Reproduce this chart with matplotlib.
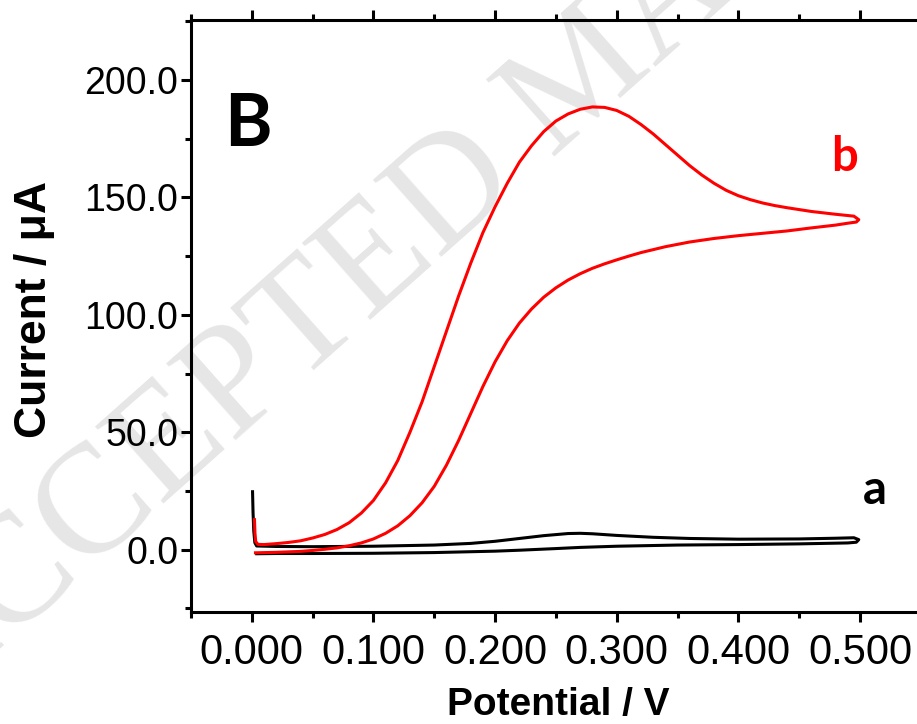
import matplotlib
matplotlib.use("Agg")
import matplotlib.pyplot as plt
from matplotlib.ticker import MultipleLocator, FormatStrFormatter

# ---- data ----
# curve a (black): initial transient, forward branch, reverse branch
a_x = [0.0006, 0.0010, 0.0016, 0.0025, 0.004, 0.02, 0.05, 0.10, 0.15, 0.18, 0.20, 0.22,
       0.24, 0.26, 0.27, 0.28, 0.30, 0.33, 0.36, 0.40, 0.45, 0.48, 0.495, 0.499,
       0.497, 0.49, 0.45, 0.40, 0.35, 0.30, 0.27, 0.25, 0.22, 0.20, 0.15, 0.10,
       0.05, 0.02, 0.004]
a_y = [24.7, 16.0, 8.0, 3.0, 1.6, 1.4, 1.3, 1.5, 2.0, 2.7, 3.6, 4.8,
       6.0, 6.9, 7.0, 6.8, 6.1, 5.3, 4.8, 4.5, 4.6, 4.9, 5.1, 4.3,
       3.2, 2.9, 2.5, 2.2, 2.0, 1.5, 1.0, 0.5, -0.2, -0.6, -1.2, -1.5,
       -1.6, -1.6, -1.7]

# curve b (red): initial transient, forward branch, reverse branch
b_x = [0.0022, 0.0026, 0.0032, 0.005, 0.01, 0.02, 0.03, 0.04, 0.05, 0.06, 0.07, 0.08,
       0.09, 0.10, 0.11, 0.12,
       0.13, 0.14, 0.15, 0.16, 0.17, 0.18, 0.19, 0.20, 0.21, 0.22, 0.23, 0.24,
       0.25, 0.26, 0.27, 0.28, 0.29, 0.30, 0.31, 0.32, 0.33, 0.34, 0.35, 0.36,
       0.37, 0.38, 0.39, 0.40, 0.41, 0.42, 0.43, 0.44, 0.46, 0.48, 0.495, 0.499,
       0.497, 0.49, 0.48, 0.46, 0.44, 0.42, 0.40, 0.38, 0.36, 0.34, 0.32, 0.31, 0.30,
       0.29, 0.28, 0.27, 0.26, 0.25, 0.24, 0.23, 0.22, 0.21, 0.20, 0.19, 0.18,
       0.17, 0.16, 0.15, 0.14, 0.13, 0.12, 0.11, 0.10, 0.09, 0.08, 0.07, 0.06,
       0.05, 0.04, 0.03, 0.02, 0.003]
b_y = [12.8, 7.0, 3.5, 2.3, 2.2, 2.6, 3.1, 3.8, 5.0, 6.5, 8.6, 11.5,
       15.6, 21.0, 28.5, 38.0,
       50.0, 63.0, 78.0, 93.0, 108.0, 122.0, 135.0, 146.0, 156.0, 165.0, 172.0, 178.0,
       182.5, 185.5, 187.5, 188.5, 188.3, 187.0, 184.5, 181.0, 177.0, 172.5, 168.0, 163.5,
       159.5, 156.0, 153.0, 150.7, 149.0, 147.6, 146.5, 145.6, 144.0, 142.8, 142.0, 140.5,
       139.5, 139.0, 138.2, 137.0, 135.7, 134.7, 133.7, 132.5, 131.0, 129.0, 126.5, 125.0, 123.4,
       121.7, 119.8, 117.5, 114.8, 111.5, 107.5, 102.5, 96.5, 89.0, 80.0, 69.5, 58.0,
       46.5, 36.0, 27.0, 20.0, 14.5, 10.2, 7.0, 4.6, 2.9, 1.7, 0.8, 0.2,
       -0.3, -0.7, -0.9, -1.1, -1.3]

x_ticks_major = 0.1
y_ticks_major = 50
xlim = (-0.05, 0.55)
ylim = (-26.5, 225.5)

# ---- figure ----
W, H = 917, 724
fig = plt.figure(figsize=(W / 100, H / 100), dpi=100)

# watermark (behind everything)
fig.text(-0.085, 0.008, "ACCEPTED MANUSCRIPT", fontsize=112, family="Liberation Serif",
         color="#e6e6e6", rotation=41.6, rotation_mode="anchor", ha="left", va="baseline",
         zorder=-5)

ax = fig.add_axes([191 / W, 1 - 612 / H, (920.8 - 191) / W, (612 - 20) / H])
ax.patch.set_alpha(0)

ax.plot(a_x, a_y, color="black", lw=2.2, solid_joinstyle="round")
ax.plot(b_x, b_y, color="#ff0000", lw=2.2, solid_joinstyle="round")

ax.set_xlim(*xlim)
ax.set_ylim(*ylim)

ax.xaxis.set_major_locator(MultipleLocator(x_ticks_major))
ax.xaxis.set_minor_locator(MultipleLocator(x_ticks_major / 2))
ax.yaxis.set_major_locator(MultipleLocator(y_ticks_major))
ax.yaxis.set_minor_locator(MultipleLocator(y_ticks_major / 2))
ax.xaxis.set_major_formatter(FormatStrFormatter("%.3f"))
ax.yaxis.set_major_formatter(FormatStrFormatter("%.1f"))

for s in ax.spines.values():
    s.set_linewidth(2.2)

ax.tick_params(which="both", direction="out", width=2.2, top=True, right=True,
               labeltop=False, labelright=False)
ax.tick_params(which="major", length=7.2)
ax.tick_params(which="minor", length=4.0)
ax.tick_params(axis="x", which="major", pad=8)
ax.tick_params(axis="y", which="major", pad=2)

for lab in ax.get_xticklabels():
    lab.set_fontfamily(["Liberation Sans Narrow", "Liberation Sans"])
    lab.set_fontsize(30)
for lab in ax.get_yticklabels():
    lab.set_fontfamily("Liberation Sans")
    lab.set_fontsize(27)

ax.set_xlabel("Potential / V", fontsize=28, fontweight="bold", family="Liberation Sans")
ax.xaxis.set_label_coords((558 - 191) / 729.8, (612 - 705) / 592)
ax.set_ylabel("Current / \u03bcA", fontsize=32, fontweight="bold", family="Liberation Sans")
ax.yaxis.set_label_coords((35 - 191) / 729.8, (612 - 310) / 592)
ax.xaxis.label.set_va("center")
ax.yaxis.label.set_va("center")

ax.text((248 - 191) / 729.8, (612 - 125) / 592, "B", transform=ax.transAxes, fontsize=52,
        fontweight="bold", family="Lato", color="black", ha="center", va="center")
ax.text((845 - 191) / 729.8, (612 - 157) / 592, "b", transform=ax.transAxes, fontsize=34,
        fontweight="bold", family="Lato", color="#ff0000", ha="center", va="center")
ax.text((875 - 191) / 729.8, (612 - 490) / 592, "a", transform=ax.transAxes, fontsize=34,
        fontweight="bold", family="Lato", color="black", ha="center", va="center")

fig.savefig("out.png", dpi=100)
